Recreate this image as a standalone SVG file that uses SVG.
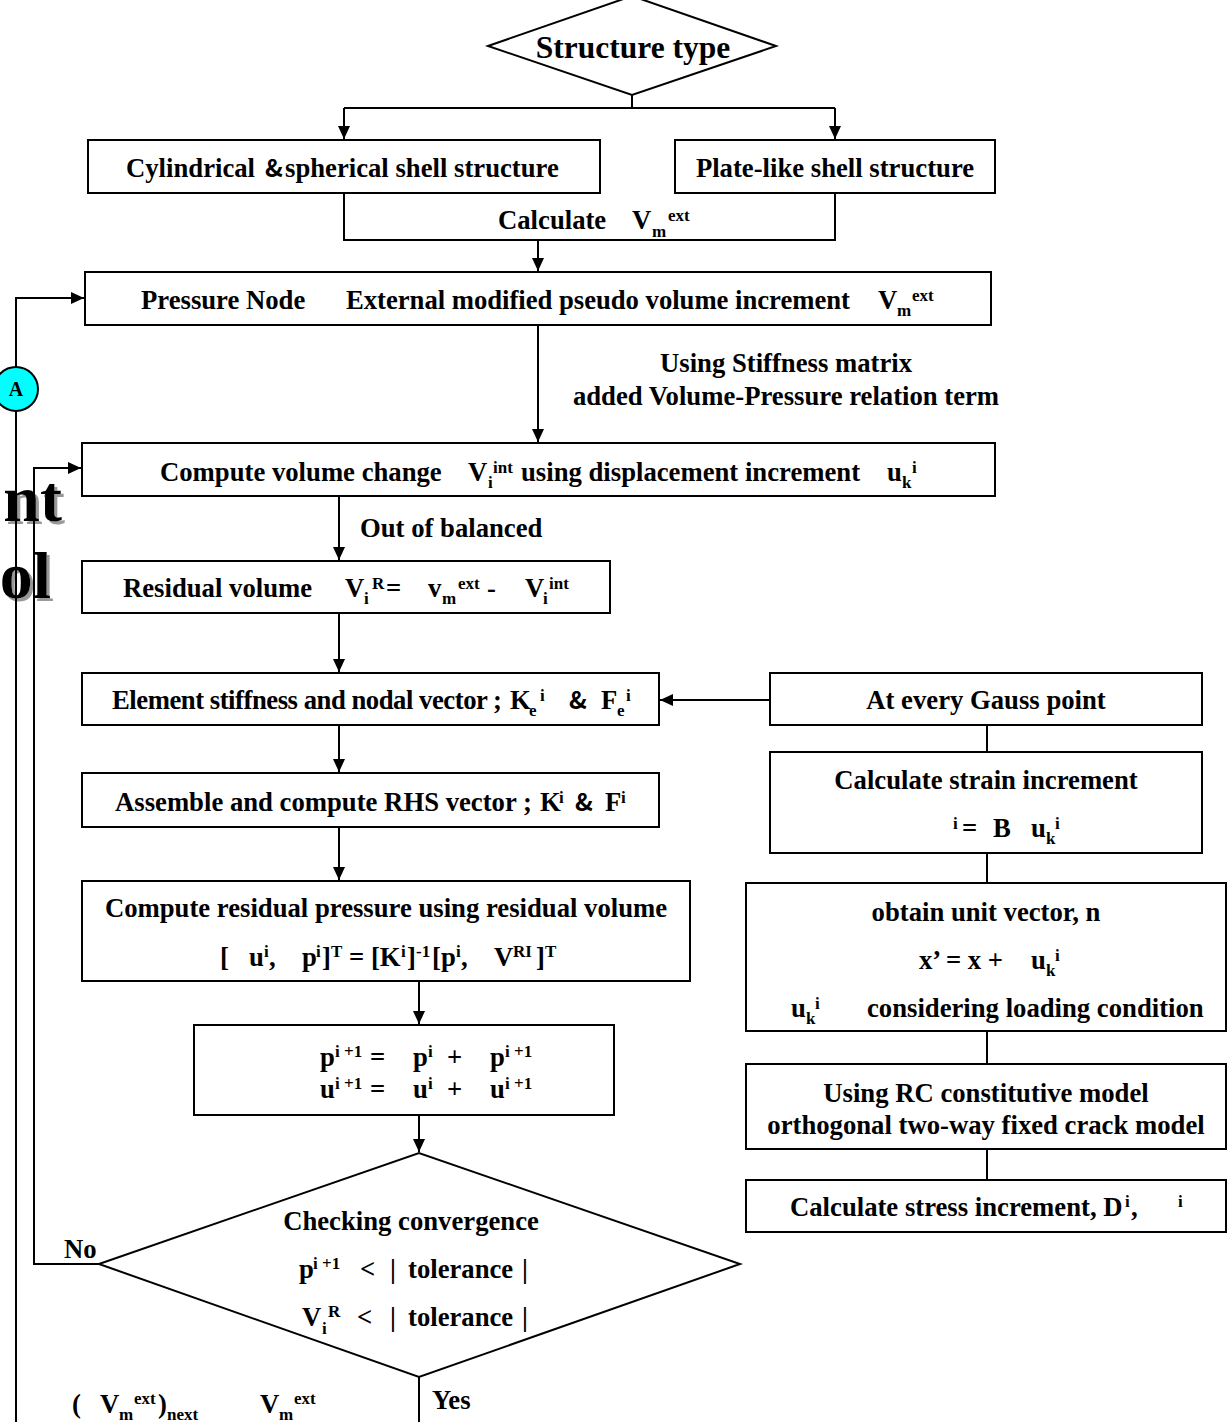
<svg xmlns="http://www.w3.org/2000/svg" width="1232" height="1422" viewBox="0 0 1232 1422">
<style>
text{font-family:"Liberation Serif","Times New Roman",serif;font-weight:bold;font-size:26.7px;fill:#000}
.s{font-size:17px}
.m{text-anchor:middle}
.amp{font-family:"Noto Sans CJK KR","Noto Sans",sans-serif;font-weight:bold;font-size:24px}
.big{font-size:66px;text-anchor:end;filter:url(#shadow)}
.b{fill:#fff;stroke:#000;stroke-width:2}
.c{fill:none;stroke:#000;stroke-width:2}
.a{marker-end:url(#ah)}
</style>
<defs>
<marker id="ah" markerUnits="userSpaceOnUse" markerWidth="14" markerHeight="12" refX="13" refY="6" orient="auto">
<path d="M0,0 L13,6 L0,12 z" fill="#000"/>
</marker>
<filter id="shadow" x="-20%" y="-20%" width="150%" height="150%">
<feDropShadow dx="3" dy="3" stdDeviation="0.6" flood-color="#999999" flood-opacity="1"/>
</filter>
</defs>
<rect width="1232" height="1422" fill="#fff"/>
<g id="background-text">
<text class="big" x="62" y="521">nt</text>
<text class="big" x="51" y="598">ol</text>
</g>
<g id="connectors">
<path class="c" d="M632,94 L632,108 M344,108 L835,108"/>
<path class="c a" d="M344,108 L344,139"/>
<path class="c a" d="M835,108 L835,139"/>
<path class="c" d="M344,193 L344,240 L835,240 L835,193"/>
<path class="c a" d="M538,240 L538,271"/>
<path class="c a" d="M538,325 L538,442"/>
<path class="c a" d="M339,496 L339,560"/>
<path class="c a" d="M339,613 L339,672"/>
<path class="c a" d="M770,700 L660,700"/>
<path class="c" d="M987,725 L987,752 M987,853 L987,883 M987,1031 L987,1064 M987,1149 L987,1180"/>
<path class="c a" d="M339,725 L339,772"/>
<path class="c a" d="M339,827 L339,880"/>
<path class="c a" d="M419,981 L419,1024"/>
<path class="c a" d="M419,1115 L419,1152"/>
<path class="c a" d="M16,1422 L16,298 L84,298"/>
<path class="c a" d="M99,1264 L34,1264 L34,468 L81,468"/>
<path class="c" d="M419,1377 L419,1422"/>
<text x="360" y="537">Out of balanced</text>
<text class="m" x="786" y="372">Using Stiffness matrix</text>
<text class="m" x="786" y="405">added Volume-Pressure relation term</text>
<text x="498" y="229">Calculate</text>
<text x="632" y="229">V</text><text class="s" x="652" y="237">m</text><text class="s" x="668" y="221">ext</text>
<text x="64" y="1258">No</text>
<text x="432" y="1409">Yes</text>
<text x="72" y="1413">(</text>
<text x="100" y="1413">V</text><text class="s" x="119" y="1420">m</text><text class="s" x="134" y="1404">ext</text>
<text x="158" y="1413">)</text><text class="s" x="167" y="1420">next</text>
<text x="260" y="1413">V</text><text class="s" x="279" y="1420">m</text><text class="s" x="294" y="1404">ext</text>
</g>
<g id="nodeA">
<circle cx="16" cy="389" r="22" fill="#00ffff" stroke="#000" stroke-width="2"/>
<text class="m" x="16" y="396" style="font-size:20px">A</text>
</g>
<g id="structure-type">
<polygon class="b" points="488,46 632,-4 776,46 632,95"/>
<text class="m" x="633" y="58" style="font-size:31.5px">Structure type</text>
</g>
<g id="cyl-shell">
<rect class="b" x="88" y="140" width="512" height="53"/>
<text x="126" y="177">Cylindrical</text>
<text class="amp" x="265" y="177">&amp;</text>
<text x="285" y="177">spherical shell structure</text>
</g>
<g id="plate-shell">
<rect class="b" x="675" y="140" width="320" height="53"/>
<text class="m" x="835" y="177">Plate-like shell structure</text>
</g>
<g id="pressure-node">
<rect class="b" x="85" y="272" width="906" height="53"/>
<text x="141" y="309">Pressure Node</text>
<text x="346" y="309" textLength="504">External modified pseudo volume increment</text>
<text x="878" y="309">V</text><text class="s" x="897" y="316">m</text><text class="s" x="912" y="301">ext</text>
</g>
<g id="volume-change">
<rect class="b" x="82" y="443" width="913" height="53"/>
<text x="160" y="481">Compute volume change</text>
<text x="468" y="481">V</text><text class="s" x="488" y="488">i</text><text class="s" x="493" y="473">int</text>
<text x="521" y="481">using displacement increment</text>
<text x="887" y="481">u</text><text class="s" x="902" y="488">k</text><text class="s" x="912" y="473">i</text>
</g>
<g id="residual-volume">
<rect class="b" x="82" y="561" width="528" height="52"/>
<text x="123" y="597">Residual volume</text>
<text x="345" y="597">V</text><text class="s" x="364" y="604">i</text><text class="s" x="372" y="589">R</text>
<text x="386" y="597">=</text>
<text x="428" y="597">v</text><text class="s" x="442" y="604">m</text><text class="s" x="458" y="589">ext</text>
<text x="487" y="597">-</text>
<text x="525" y="597">V</text><text class="s" x="543" y="604">i</text><text class="s" x="549" y="589">int</text>
</g>
<g id="element-stiffness">
<rect class="b" x="82" y="673" width="577" height="52"/>
<text x="112" y="709" textLength="390">Element stiffness and nodal vector ;</text>
<text x="510" y="709">K</text><text class="s" x="529" y="716">e</text><text class="s" x="540" y="701">i</text>
<text class="amp" x="569" y="709">&amp;</text>
<text x="601" y="709">F</text><text class="s" x="617" y="716">e</text><text class="s" x="626" y="701">i</text>
</g>
<g id="assemble">
<rect class="b" x="82" y="773" width="577" height="54"/>
<text x="115" y="811">Assemble and compute RHS vector ;</text>
<text x="540" y="811">K</text><text class="s" x="559" y="803">i</text>
<text class="amp" x="575" y="811">&amp;</text>
<text x="605" y="811">F</text><text class="s" x="621" y="803">i</text>
</g>
<g id="residual-pressure">
<rect class="b" x="82" y="881" width="608" height="100"/>
<text class="m" x="386" y="917">Compute residual pressure using residual volume</text>
<text x="220" y="966">[</text>
<text x="249" y="966">u</text><text class="s" x="264" y="957">i</text><text x="269" y="966">,</text>
<text x="302" y="966">p</text><text class="s" x="316" y="957">i</text><text x="322" y="966">]</text><text class="s" x="331" y="957">T</text>
<text x="349" y="966">= [K</text><text class="s" x="401" y="957">i</text><text x="407" y="966">]</text><text class="s" x="416" y="957">-1</text>
<text x="432" y="966">[p</text><text class="s" x="456" y="957">i</text><text x="461" y="966">,</text>
<text x="494" y="966">V</text><text class="s" x="513" y="957">RI</text><text x="536" y="966">]</text><text class="s" x="545" y="957">T</text>
</g>
<g id="update">
<rect class="b" x="194" y="1025" width="420" height="90"/>
<text x="320" y="1066">p</text><text class="s" x="335" y="1057">i +1</text><text x="370" y="1066">=</text>
<text x="413" y="1066">p</text><text class="s" x="428" y="1057">i</text><text x="447" y="1066">+</text>
<text x="490" y="1066">p</text><text class="s" x="505" y="1057">i +1</text>
<text x="320" y="1098">u</text><text class="s" x="335" y="1089">i +1</text><text x="370" y="1098">=</text>
<text x="413" y="1098">u</text><text class="s" x="428" y="1089">i</text><text x="447" y="1098">+</text>
<text x="490" y="1098">u</text><text class="s" x="505" y="1089">i +1</text>
</g>
<g id="convergence">
<polygon class="b" points="99,1264 419,1153 740,1264 419,1377"/>
<text class="m" x="411" y="1230">Checking convergence</text>
<text x="299" y="1278">p</text><text class="s" x="313" y="1269">i +1</text>
<text x="360" y="1278">&lt;</text><text x="390" y="1278">|</text><text x="408" y="1278">tolerance</text><text x="522" y="1278">|</text>
<text x="302" y="1326">V</text><text class="s" x="322" y="1334">i</text><text class="s" x="328" y="1317">R</text>
<text x="357" y="1326">&lt;</text><text x="390" y="1326">|</text><text x="408" y="1326">tolerance</text><text x="522" y="1326">|</text>
</g>
<g id="gauss">
<rect class="b" x="770" y="673" width="432" height="52"/>
<text class="m" x="986" y="709">At every Gauss point</text>
</g>
<g id="strain">
<rect class="b" x="770" y="752" width="432" height="101"/>
<text class="m" x="986" y="789">Calculate strain increment</text>
<text class="s" x="953" y="829">i</text><text x="962" y="837">=</text><text x="993" y="837">B</text>
<text x="1031" y="837">u</text><text class="s" x="1046" y="844">k</text><text class="s" x="1055" y="829">i</text>
</g>
<g id="unit-vector">
<rect class="b" x="746" y="883" width="480" height="148"/>
<text class="m" x="986" y="921">obtain unit vector, n</text>
<text x="919" y="969">x’ = x +</text>
<text x="1031" y="969">u</text><text class="s" x="1046" y="976">k</text><text class="s" x="1055" y="961">i</text>
<text x="791" y="1017">u</text><text class="s" x="806" y="1024">k</text><text class="s" x="815" y="1009">i</text>
<text x="867" y="1017">considering loading condition</text>
</g>
<g id="rc-model">
<rect class="b" x="746" y="1064" width="480" height="85"/>
<text class="m" x="986" y="1102">Using RC constitutive model</text>
<text class="m" x="986" y="1134">orthogonal two-way fixed crack model</text>
</g>
<g id="stress">
<rect class="b" x="746" y="1180" width="480" height="52"/>
<text x="790" y="1216">Calculate stress increment, D</text><text class="s" x="1125" y="1207">i</text><text x="1131" y="1216">,</text>
<text class="s" x="1178" y="1207">i</text>
</g>
</svg>
